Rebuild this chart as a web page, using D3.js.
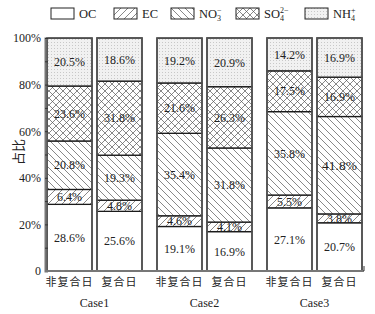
<!DOCTYPE html>
<html>
<head>
<meta charset="utf-8">
<script src="https://cdn.jsdelivr.net/npm/d3@7"></script>
<style>
body { margin: 0; background: #fff; }
svg { display: block; }
text { font-family: "Liberation Serif", "Times New Roman", serif; fill: #222; }
.cjk { font-family: "Noto Sans CJK SC", sans-serif; }
</style>
</head>
<body>
<script>
// data, bottom to top
var cases = ["Case1", "Case2", "Case3"];
var dayTypes = ["非复合日", "复合日"];
var species = ["OC", "EC", "NO3", "SO4", "NH4"];
var OC  = [28.6, 25.6, 19.1, 16.9, 27.1, 20.7];
var EC  = [6.4, 4.8, 4.6, 4.1, 5.5, 3.8];
var NO3 = [20.8, 19.3, 35.4, 31.8, 35.8, 41.8];
var SO4 = [23.6, 31.8, 21.6, 26.3, 17.5, 16.9];
var NH4 = [20.5, 18.6, 19.2, 20.9, 14.2, 16.9];
var yTicks = [0, 20, 40, 60, 80, 100];
var emphasis = ["Case3|复合日|NO3"];

var W = 375, H = 314;
var svg = d3.select("body").append("svg")
    .attr("width", W)
    .attr("height", H);

//patterns
var defs = svg.append("defs");
function hatch(id, dirs, size) {
    var p = defs.append("pattern")
        .attr("id", id)
        .attr("patternUnits", "userSpaceOnUse")
        .attr("width", size).attr("height", size);
    p.append("rect").attr("width", size).attr("height", size).attr("fill", "#fff");
    dirs.forEach(function (d) {
        var path = d === "/" ?
            "M0," + size + "L" + size + ",0M-2,2L2,-2M" + (size - 2) + "," + (size + 2) + "L" + (size + 2) + "," + (size - 2) :
            "M0,0L" + size + "," + size + "M-2," + (size - 2) + "L2," + (size + 2) + "M" + (size - 2) + ",-2L" + (size + 2) + ",2";
        p.append("path").attr("d", path)
            .attr("stroke", "#555").attr("stroke-width", 0.7);
    });
}
hatch("pEC", ["/"], 7);
hatch("pNO3", ["\\"], 7);
hatch("pSO4", ["/", "\\"], 7);
var dots = defs.append("pattern")
    .attr("id", "pNH4")
    .attr("patternUnits", "userSpaceOnUse")
    .attr("width", 3).attr("height", 3);
dots.append("rect").attr("width", 3).attr("height", 3).attr("fill", "#f1f1f1");
dots.append("rect").attr("width", 1).attr("height", 1).attr("fill", "#c8c8c8");

var fills = {OC: "#fff", EC: "url(#pEC)", NO3: "url(#pNO3)", SO4: "url(#pSO4)", NH4: "url(#pNH4)"};

// rows
var rows = [];
cases.forEach(function (c, i) {
    dayTypes.forEach(function (t, j) {
        var k = i * 2 + j;
        rows.push({caseName: c, day: t, OC: OC[k], EC: EC[k], NO3: NO3[k], SO4: SO4[k], NH4: NH4[k]});
    });
});
var series = d3.stack().keys(species)(rows);

// scales
var x0 = d3.scaleBand().domain(cases).range([47, 362]).paddingInner(15 / 110).paddingOuter(0);
var x1 = d3.scaleBand().domain(dayTypes).range([0, x0.bandwidth()]).paddingInner(0.1).paddingOuter(0);
var y = d3.scaleLinear().domain([0, 100]).range([271, 38]);

// bars
var layers = svg.append("g").selectAll("g")
    .data(series)
    .enter().append("g");

layers.selectAll("rect")
    .data(function (s) { return s.map(function (d) { d.key = s.key; return d; }); })
    .enter().append("rect")
    .attr("x", function (d) { return x0(d.data.caseName) + x1(d.data.day); })
    .attr("width", x1.bandwidth())
    .attr("y", function (d) { return y(Math.min(d[1], 100)); })
    .attr("height", function (d) { return y(d[0]) - y(Math.min(d[1], 100)); })
    .attr("fill", function (d) { return fills[d.key]; })
    .attr("stroke", "#1a1a1a")
    .attr("stroke-width", 1.3);

// outer bar borders (grayish)
svg.append("g").selectAll("rect")
    .data(rows)
    .enter().append("rect")
    .attr("x", function (d) { return x0(d.caseName) + x1(d.day); })
    .attr("width", x1.bandwidth())
    .attr("y", y(100))
    .attr("height", y(0) - y(100))
    .attr("fill", "none")
    .attr("stroke", "#555")
    .attr("stroke-width", 1.6);

// value labels
layers.selectAll("text")
    .data(function (s) { return s; })
    .enter().append("text")
    .attr("x", function (d) { return x0(d.data.caseName) + x1(d.data.day) + x1.bandwidth() / 2; })
    .attr("y", function (d) { return (y(d[0]) + y(Math.min(d[1], 100))) / 2; })
    .attr("dy", "0.35em")
    .attr("text-anchor", "middle")
    .style("font-size", function (d) {
        return emphasis.indexOf(d.data.caseName + "|" + d.data.day + "|" + d.key) >= 0 ? "13.5px" : "12px";
    })
    .text(function (d) { return d.data[d.key].toFixed(1) + "%"; });

// y axis
var yAxis = d3.axisLeft(y)
    .tickValues(d3.range(0, 101, 10))
    .tickSize(-3)
    .tickPadding(4)
    .tickFormat(function (d) { return yTicks.indexOf(d) < 0 ? "" : (d === 0 ? "0" : d + "%"); });
var gy = svg.append("g")
    .attr("transform", "translate(45,0)")
    .call(yAxis)
    .attr("font-family", null)
    .attr("font-size", null);
gy.select(".domain").attr("stroke", "#777").attr("stroke-width", 2);
gy.selectAll(".tick line").attr("stroke", "#333");
gy.selectAll(".tick text")
    .style("font-size", "12px")
    .style("font-family", "'Liberation Serif', serif")
    .attr("fill", "#222");

// x axis
var gx = svg.append("g")
    .attr("transform", "translate(0," + y(0) + ")");
gx.append("line").attr("x1", 45).attr("x2", 364).attr("y1", 0).attr("y2", 0)
    .attr("stroke", "#777").attr("stroke-width", 2);
gx.append("line").attr("x1", 364).attr("x2", 364).attr("y1", 0).attr("y2", -5)
    .attr("stroke", "#333").attr("stroke-width", 1);
gx.selectAll("text.day")
    .data(rows)
    .enter().append("text")
    .attr("class", "day cjk")
    .attr("x", function (d) { return x0(d.caseName) + x1(d.day) + x1.bandwidth() / 2; })
    .attr("y", 11)
    .attr("dy", "0.35em")
    .attr("text-anchor", "middle")
    .style("font-size", "11px")
    .style("letter-spacing", "1px")
    .text(function (d) { return d.day; });
gx.selectAll("text.case")
    .data(cases)
    .enter().append("text")
    .attr("class", "case")
    .attr("x", function (d) { return x0(d) + x0.bandwidth() / 2; })
    .attr("y", 32)
    .attr("dy", "0.35em")
    .attr("text-anchor", "middle")
    .style("font-size", "12px")
    .text(function (d) { return d; });

// y label
svg.append("text")
    .attr("class", "cjk")
    .attr("transform", "translate(18,152) rotate(-90)")
    .attr("text-anchor", "middle")
    .attr("dy", "0.35em")
    .style("font-size", "13px")
    .text("占比");

//Legend
var legendX = [51, 114, 171, 236, 305];
var legendMain = {OC: "OC", EC: "EC", NO3: "NO", SO4: "SO", NH4: "NH"};
var legendSub = {NO3: "3", SO4: "4", NH4: "4"};
var legendSup = {NO3: "−", SO4: "2−", NH4: "+"};
var lg = svg.append("g").selectAll("g")
    .data(species)
    .enter().append("g")
    .attr("transform", function (d, i) { return "translate(" + legendX[i] + ",8)"; });
lg.append("rect")
    .attr("width", 23).attr("height", 11)
    .attr("fill", function (d) { return fills[d]; })
    .attr("stroke", "#222").attr("stroke-width", 1);
var lt = lg.append("text")
    .attr("x", 28)
    .attr("y", 10)
    .style("font-size", "12.5px");
lt.append("tspan").text(function (d) { return legendMain[d]; });
lt.filter(function (d) { return legendSub[d]; })
    .append("tspan")
    .attr("dy", 3)
    .style("font-size", "8px")
    .text(function (d) { return legendSub[d]; });
lt.filter(function (d) { return legendSup[d]; })
    .append("tspan")
    .attr("dx", -4)
    .attr("dy", -8)
    .style("font-size", "8px")
    .text(function (d) { return legendSup[d]; });
</script>
</body>
</html>
